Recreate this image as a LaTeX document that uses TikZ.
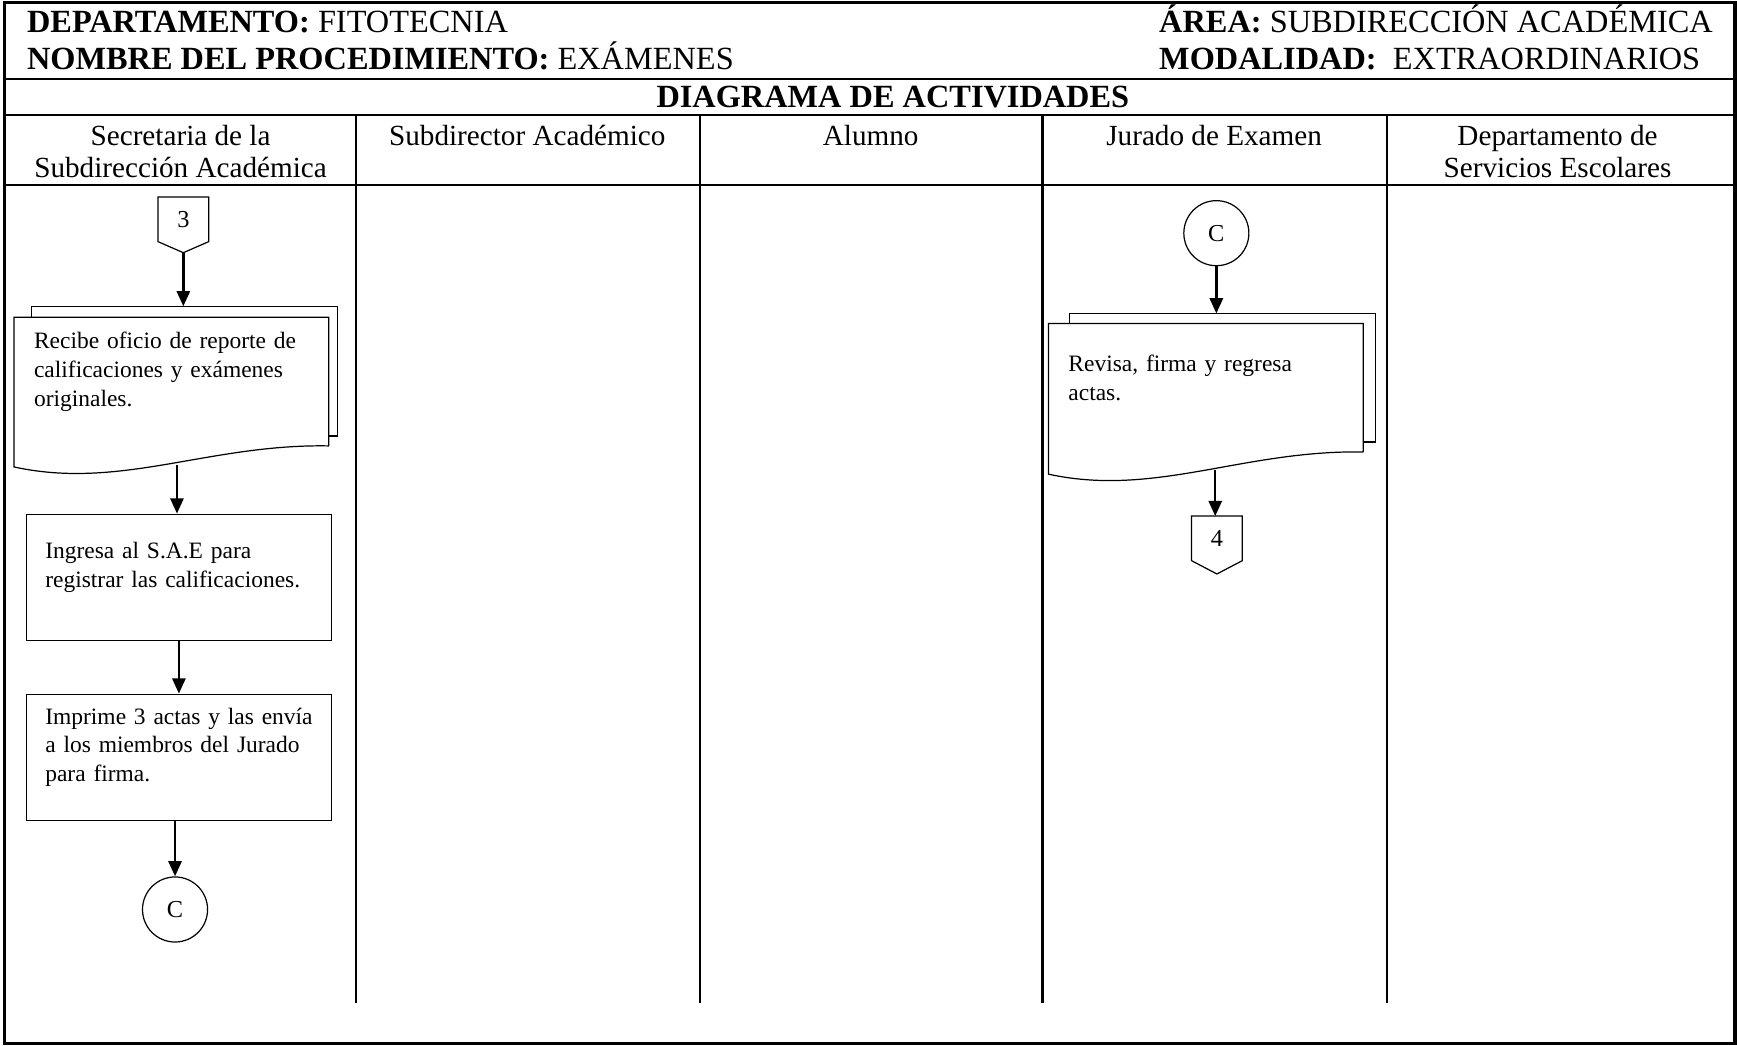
\documentclass[tikz,border=0pt]{standalone}
\usepackage{fontspec}
\setmainfont{Liberation Serif}
\usetikzlibrary{arrows.meta,calc}
\hyphenpenalty=10000
\newcommand{\lift}{\par\kern0.29cm}
\tikzset{lane/.style={line width=0.9pt},hdr/.style={anchor=base west,inner sep=0pt,font=\fontsize{13.3}{15.4}\selectfont},col/.style={align=center,inner sep=0pt,font=\fontsize{12}{13.2}\selectfont},proc/.style={draw,line width=0.5pt,text width=3.86cm,inner xsep=0.27cm,inner ysep=2pt,minimum width=4.4cm,minimum height=1.82cm,align=left,font=\fontsize{9.65}{11.8}\selectfont},doc/.style={proc,draw=none,text width=3.97cm,inner xsep=0.28cm,minimum width=4.53cm,minimum height=1.84cm},conn/.style={draw,circle,line width=0.5pt,minimum size=0.94cm,inner sep=0pt,font=\fontsize{10}{12}\selectfont},offp/.style={inner sep=0pt,minimum width=0.72cm,minimum height=0.63cm,font=\fontsize{10}{12}\selectfont},outl/.style={line width=0.5pt},arr/.style={-{Triangle[length=0.22cm,width=0.19cm]},line width=1pt}}
\begin{document}
\begin{tikzpicture}[x=0.016cm,y=-0.016cm]
\useasboundingbox (0,0) rectangle (1568,944);
\draw[line width=1.4pt] (4,2) rectangle (1566,942);
\foreach \y in {71,104,167} \draw[lane] (4,\y) -- (1566,\y);
\foreach \x in {321,632,941,1252} \draw[lane] (\x,104) -- (\x,905);
\node[hdr] (dep) at (24,29) {\textbf{DEPARTAMENTO:} FITOTECNIA};
\node[hdr] (nom) at (24,63) {\textbf{NOMBRE DEL PROCEDIMIENTO:} EXÁMENES};
\node[hdr] (area) at (1046,29) {\textbf{ÁREA:} SUBDIRECCIÓN ACADÉMICA};
\node[hdr] (moda) at (1046,63) {\textbf{MODALIDAD:}\ \ EXTRAORDINARIOS};
\node[hdr,anchor=base,font=\fontsize{13.3}{15.4}\selectfont\bfseries] (diag) at (806,97) {DIAGRAMA DE ACTIVIDADES};
\node[col] (sec) at (163,136.5) {Secretaria de la\\Subdirección Académica};
\node[col,anchor=base] (sub) at (476,131) {Subdirector Académico};
\node[col,anchor=base] (alu) at (786,131) {Alumno};
\node[col,anchor=base] (jur) at (1096,131) {Jurado de Examen};
\node[col] (dse) at (1406,136.5) {Departamento de\\Servicios Escolares};
% secretaria
\node[offp] (of3) at (165.5,198) {3};
\draw[outl] (of3.south west) -- (of3.north west) -- (of3.north east) -- (of3.south east) -- ($(of3.south)+(0,10)$) coordinate (of3tip) -- cycle;
\node[doc] (recibe) at (154.75,344.5) {Recibe oficio de reporte de\\calificaciones y exámenes\\originales.\lift};
\draw[outl] ($(recibe.north west)+(15.5,0)$) -- ++(0,-10) coordinate (recback) -| ($(recibe.south east)+(8,-9)$) -- ++(-8,0);
\draw[outl] (recibe.south east) -- (recibe.north east) -- (recibe.north west) -- ($(recibe.south west)+(0,19)$) .. controls ($(recibe.south west)+(96,40)$) and ($(recibe.south west)+(176,-2)$) .. (recibe.south east);
\coordinate (recwave) at ($(recibe.south)+(5,17)$);
\node[proc] (ingresa) at (161.5,521) {Ingresa al S.A.E para\\registrar las calificaciones.\lift};
\node[proc] (imprime) at (161.5,683.5) {\mbox{Imprime 3 actas y las envía}\\a los miembros del Jurado\\para firma.\lift};
\node[conn] (cA) at (158,821) {C};
\draw[arr] (of3tip) -- (of3tip |- recback);
\draw[arr] (recwave) -- (recwave |- ingresa.north);
\draw[arr] (ingresa) -- (imprime);
\draw[arr] (imprime.south -| cA) -- (cA);
% jurado
\node[conn] (cB) at (1098,210.5) {C};
\node[doc] (revisa) at (1088.5,350) {Revisa, firma y regresa\\actas.\lift};
\draw[outl] ($(revisa.north west)+(19,0)$) -- ++(0,-9) coordinate (revback) -| ($(revisa.south east)+(11,-9)$) -- ++(-11,0);
\draw[outl] (revisa.south east) -- (revisa.north east) -- (revisa.north west) -- ($(revisa.south west)+(0,20)$) .. controls ($(revisa.south west)+(96,41)$) and ($(revisa.south west)+(176,-2)$) .. (revisa.south east);
\coordinate (revwave) at ($(revisa.south)+(8.5,16)$);
\node[offp] (of4) at (1098.5,486) {4};
\draw[outl] (of4.south west) -- (of4.north west) -- (of4.north east) -- (of4.south east) -- ($(of4.south)+(0,12)$) -- cycle;
\draw[arr] (cB) -- (cB |- revback);
\draw[arr] (revwave) -- (revwave |- of4.north);
\end{tikzpicture}
\end{document}
